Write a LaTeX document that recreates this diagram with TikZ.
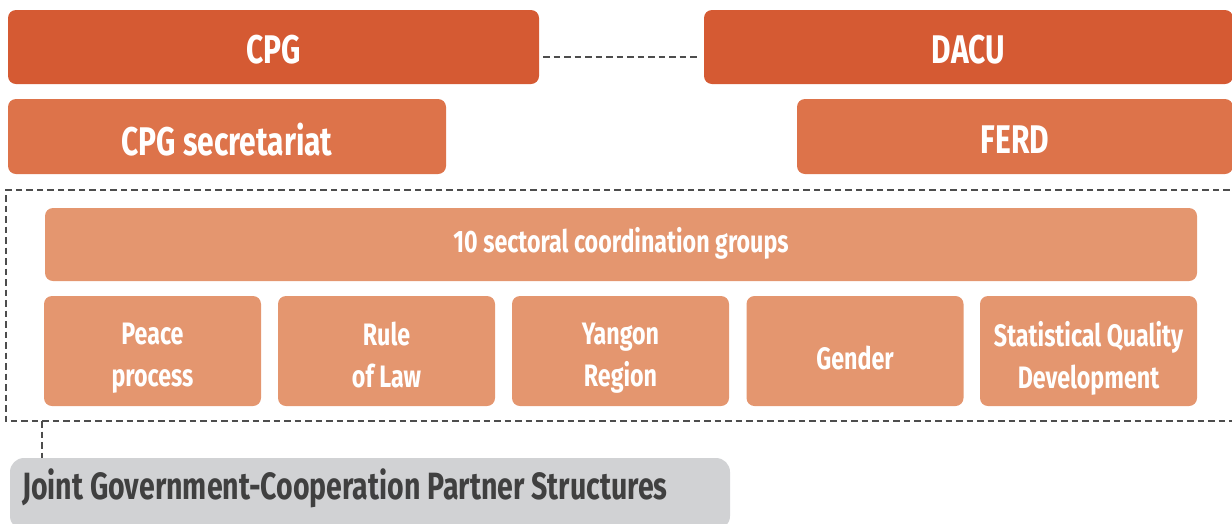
\documentclass[tikz,border=0pt]{standalone}
\usepackage{fontspec}
\setmainfont{Fira Sans}[FakeStretch=0.75]
\usetikzlibrary{positioning,calc}
\definecolor{dark}{HTML}{D55A33}
\definecolor{mid}{HTML}{DD734A}
\definecolor{light}{HTML}{E4966F}
\definecolor{greyfill}{HTML}{D1D2D4}
\definecolor{greytext}{HTML}{404040}
\definecolor{dashcol}{HTML}{4D4D4D}
\tikzset{
  box/.style={rounded corners=8pt, inner sep=0pt},
  bigtxt/.style={label={[inner sep=0pt, text=white, yshift=-3pt, font=\bfseries\fontsize{40}{44}\selectfont]center:#1}},
  smalllbl/.style={inner sep=0pt, text=white, align=center,
      execute at begin node=\vphantom{Ply}, execute at end node=\vphantom{Ply},
      font=\bfseries\fontsize{31}{42}\selectfont},
  smalltxt/.style={label={[smalllbl, yshift=-7pt]center:#1}},
  topbox/.style={box, fill=dark, minimum height=74pt},
  secbox/.style={box, fill=mid, minimum height=75pt},
  grpbox/.style={box, fill=light},
  dashline/.style={draw=dashcol, line width=2.4pt, dash pattern=on 6.5pt off 4pt},
}
\begin{document}
\begin{tikzpicture}[x=1pt,y=-1pt]
\useasboundingbox (0,0) rectangle (1232,523);
% top row
\node[topbox, minimum width=531pt, bigtxt=CPG] (cpg) at (273.5,47) {};
\node[topbox, minimum width=529pt, bigtxt=DACU] (dacu) at (968.5,47) {};
\node[secbox, minimum width=438pt, bigtxt={CPG secretariat}] (cpgs) at (227,136.5) {};
\node[secbox, minimum width=436pt, bigtxt=FERD] (ferd) at (1015,136.5) {};
\draw[dashline, shorten <=4pt, shorten >=4pt] ([yshift=-10pt]cpg.east) -- ([yshift=-10pt]dacu.west);
% dashed frame
\draw[dashline] (1240,190) -- (6,190) -- (6,421) -- (1240,421);
% groups
\node[grpbox, minimum width=1152pt, minimum height=73pt, label={[smalllbl, yshift=1pt]center:10 sectoral coordination groups}] (scg) at (621,244.5) {};
\node[grpbox, minimum width=217pt, minimum height=110pt, smalltxt={Peace\\process}] (g1) at (152.5,351) {};
\node[grpbox, minimum width=217pt, minimum height=110pt, smalltxt={Rule\\of Law}] (g2) at (386.5,351) {};
\node[grpbox, minimum width=217pt, minimum height=110pt, smalltxt={Yangon\\Region}] (g3) at (620.5,351) {};
\node[grpbox, minimum width=217pt, minimum height=110pt, label={[smalllbl, yshift=-10pt]center:Gender}] (g4) at (855,351) {};
\node[grpbox, minimum width=217pt, minimum height=110pt, smalltxt={Statistical Quality\\Development}] (g5) at (1088.5,351) {};
% bottom
\node[rounded corners=14pt, fill=greyfill, minimum width=720pt, minimum height=72pt, inner sep=0pt] (jg) at (370,494) {};
\node[anchor=west, inner sep=0pt, text=greytext, font=\bfseries\fontsize{38}{42}\selectfont] (jgt) at (22,488) {Joint Government-Cooperation Partner Structures};
\coordinate (fb) at (42,421);
\draw[dashline] (fb) -- (fb |- jg.north);
\end{tikzpicture}
\end{document}
